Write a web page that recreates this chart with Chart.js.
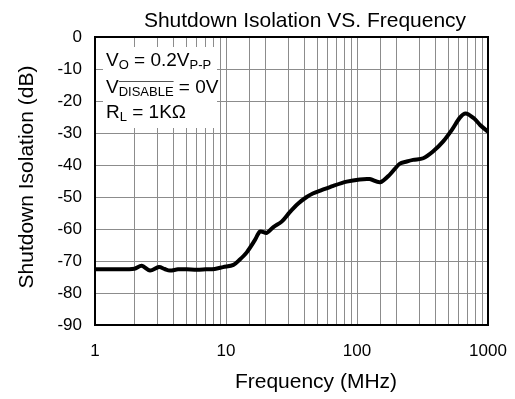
<!DOCTYPE html>
<html>
<head>
<meta charset="utf-8">
<script src="https://cdn.jsdelivr.net/npm/chart.js@4/dist/chart.umd.min.js"></script>
<style>
  html, body { margin: 0; padding: 0; background: #fff; }
  #chart { display: block; }
</style>
</head>
<body>
<canvas id="chart" width="515" height="399"></canvas>
<script>
// Shutdown isolation vs frequency
const frequencyMHz = [1, 1.5, 2.0, 2.27, 2.63, 3.08, 3.4, 3.73, 4.3, 5, 6, 7, 8.2, 9.5,
  11.4, 12.7, 14.4, 16.6, 18.2, 20.5, 23, 26.6, 30.7, 35.6, 41.3, 46, 52.5, 66, 83.5,
  105, 125, 150, 178, 212, 240, 268, 320, 380, 455, 530, 610, 675, 780, 870, 1000];
const isolationDb = [-72.6, -72.6, -72.4, -71.5, -73, -71.9, -72.5, -73, -72.6, -72.6, -72.7, -72.6, -72.5, -71.9,
  -71.2, -69.6, -67.3, -63.5, -60.8, -61.2, -59.4, -57.7, -54.7, -52, -50, -48.9, -48, -46.5, -45.2,
  -44.5, -44.4, -45.4, -43, -39.6, -38.9, -38.4, -37.9, -35.8, -32.6, -29, -25.2, -23.9, -25.4, -27.5, -29.6];
const xLabelValues = [1, 10, 100, 1000];
const yMin = -90;
const yMax = 0;
const yStep = 10;

const chartTitle = 'Shutdown Isolation VS. Frequency';
const xTitle = 'Frequency (MHz)';
const yTitle = 'Shutdown Isolation (dB)';

const FONT = 'Arial, "Liberation Sans", sans-serif';
const GRID = '#8c8c8c';

// draw text runs with optional subscripts, returns end x
function drawRuns(ctx, runs, x, y) {
  runs.forEach(run => {
    if (run.sub) {
      ctx.font = `13px ${FONT}`;
      ctx.fillText(run.text, x, y + 3);
      const w = ctx.measureText(run.text).width;
      if (run.overline) {
        ctx.save();
        ctx.strokeStyle = '#555';
        ctx.lineWidth = 1;
        ctx.beginPath();
        ctx.moveTo(x, y - 11.5);
        ctx.lineTo(x + w, y - 11.5);
        ctx.stroke();
        ctx.restore();
      }
      x += w;
    } else {
      ctx.font = `19px ${FONT}`;
      ctx.fillText(run.text, x, y);
      x += ctx.measureText(run.text).width;
    }
  });
  return x;
}

const decorPlugin = {
  id: 'decor',
  beforeDraw(chart) {
    const ctx = chart.ctx;
    ctx.save();
    ctx.fillStyle = '#fff';
    ctx.fillRect(0, 0, chart.width, chart.height);
    ctx.restore();
  },
  beforeDatasetsDraw(chart) {
    const ctx = chart.ctx;
    const area = chart.chartArea;
    ctx.save();
    // white box behind the conditions text
    ctx.fillStyle = '#fff';
    ctx.fillRect(area.left + 8, area.top + 10, 114, 81);
    ctx.fillStyle = '#000';
    ctx.textBaseline = 'alphabetic';
    ctx.textAlign = 'left';
    const x0 = area.left + 11;
    drawRuns(ctx, [{ text: 'V' }, { text: 'O', sub: true }, { text: ' = 0.2V' }, { text: 'P-P', sub: true }], x0, 66);
    drawRuns(ctx, [{ text: 'V' }, { text: 'DISABLE', sub: true, overline: true }, { text: ' = 0V' }], x0, 93);
    drawRuns(ctx, [{ text: 'R' }, { text: 'L', sub: true }, { text: ' = 1KΩ' }], x0, 118);
    ctx.restore();
  },
  afterDatasetsDraw(chart) {
    const ctx = chart.ctx;
    const area = chart.chartArea;
    ctx.save();
    ctx.strokeStyle = '#000';
    ctx.lineWidth = 2;
    ctx.strokeRect(area.left, area.top, area.right - area.left, area.bottom - area.top);
    ctx.restore();
  },
  afterDraw(chart) {
    const ctx = chart.ctx;
    ctx.save();
    ctx.fillStyle = '#000';
    ctx.font = `21px ${FONT}`;
    ctx.textAlign = 'center';
    ctx.textBaseline = 'alphabetic';
    ctx.fillText(chartTitle, 305, 27);
    ctx.fillText(xTitle, 316, 388);
    ctx.translate(33, 177);
    ctx.rotate(-Math.PI / 2);
    ctx.fillText(yTitle, 0, 0);
    ctx.restore();
  }
};

const points = frequencyMHz.map((f, i) => ({ x: f, y: isolationDb[i] }));

new Chart(document.getElementById('chart'), {
  type: 'line',
  data: {
    datasets: [{
      label: 'Isolation',
      data: points,
      borderColor: '#000',
      borderWidth: 4,
      pointRadius: 0,
      tension: 0.3,
      fill: false
    }]
  },
  options: {
    responsive: false,
    animation: false,
    devicePixelRatio: 1,
    layout: {
      padding: { top: 37, right: 27, left: 0, bottom: 0 }
    },
    plugins: {
      legend: { display: false },
      title: { display: false },
      tooltip: { enabled: false }
    },
    scales: {
      x: {
        type: 'logarithmic',
        min: 1,
        max: 1000,
        afterFit: (scale) => {
          scale.height = 74;
          scale.paddingLeft = 0;
          scale.paddingRight = 0;
        },
        border: { display: false },
        grid: { color: GRID, lineWidth: 1, drawTicks: false },
        ticks: {
          autoSkip: false,
          maxRotation: 0,
          padding: 16,
          color: '#000',
          font: { family: FONT, size: 17 },
          callback: (value) => xLabelValues.includes(value) ? String(value) : ''
        }
      },
      y: {
        min: yMin,
        max: yMax,
        afterFit: (scale) => {
          scale.width = 95;
          scale.paddingTop = 0;
          scale.paddingBottom = 0;
        },
        border: { display: false },
        grid: { color: GRID, lineWidth: 1, drawTicks: false },
        ticks: {
          stepSize: yStep,
          padding: 13,
          color: '#000',
          font: { family: FONT, size: 17 },
          callback: (value) => String(value)
        }
      }
    }
  },
  plugins: [decorPlugin]
});
</script>
</body>
</html>
